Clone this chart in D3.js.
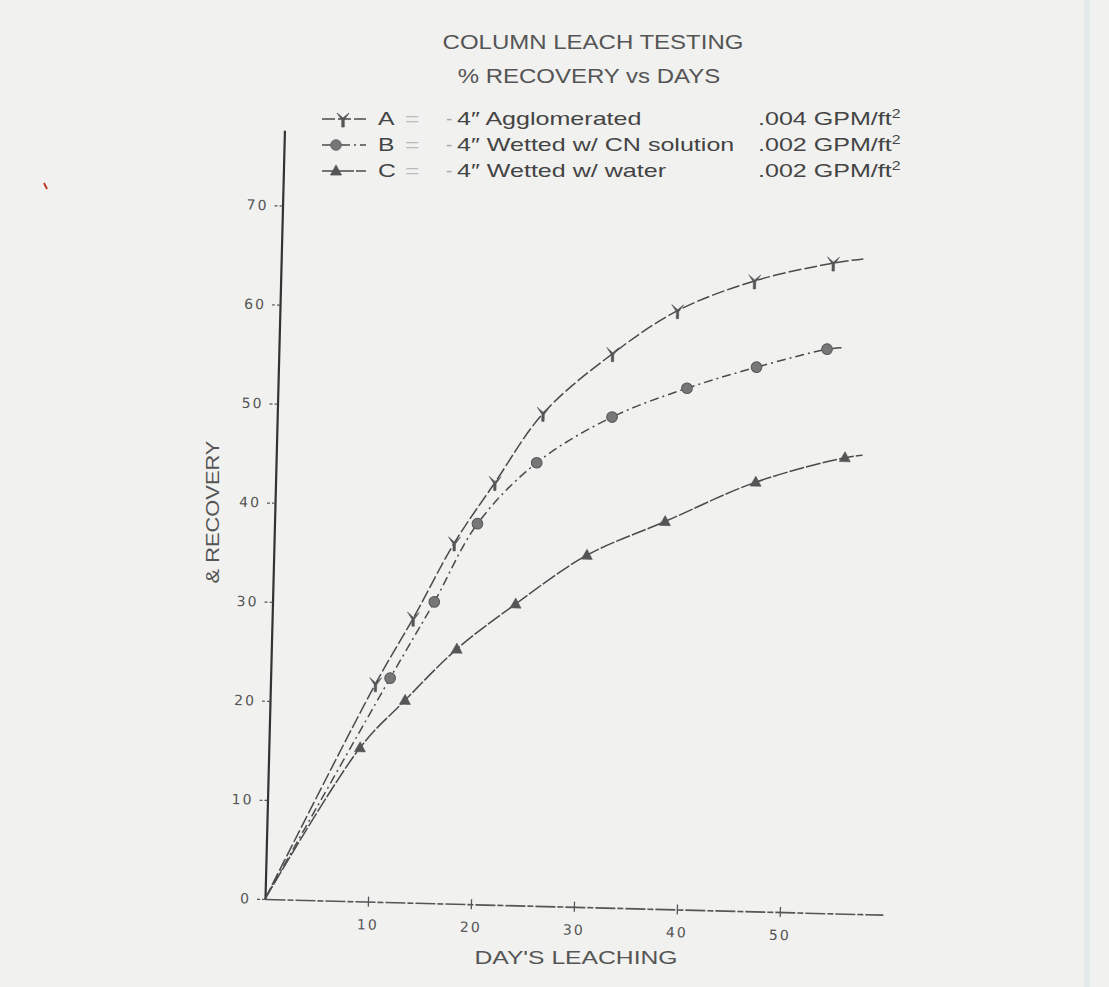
<!DOCTYPE html>
<html>
<head>
<meta charset="utf-8">
<script src="https://cdn.jsdelivr.net/npm/d3@7"></script>
<style>
  body { margin: 0; background: #f1f1f0; }
  svg { display: block; }
</style>
</head>
<body>
<svg width="1109" height="987"></svg>
<script>
// data (day, % recovery); first point is the origin, last is the curve tail
const aDays = [0, 10.2, 13.7, 17.5, 21.3, 25.8, 32.4, 38.6, 46.0, 53.6, 56.5];
const aRecovery = [0, 22.0, 28.7, 36.4, 42.6, 49.7, 55.9, 60.4, 63.6, 65.6, 66.1];
const bDays = [0, 11.6, 15.7, 19.7, 25.3, 32.5, 39.7, 46.4, 53.2, 54.7];
const bRecovery = [0, 22.6, 30.4, 38.4, 44.7, 49.5, 52.6, 54.9, 56.9, 57.1];
const cDays = [0, 8.85, 13.1, 18.0, 23.6, 30.4, 37.9, 46.6, 55.2, 56.9];
const cRecovery = [0, 15.5, 20.4, 25.7, 30.4, 35.5, 39.1, 43.3, 46.0, 46.3];

const seriesKeys = ["A", "B", "C"];
const seriesDesc = ["4\u2033 Agglomerated", "4\u2033 Wetted w/ CN solution", "4\u2033 Wetted w/ water"];
const seriesRate = [".004", ".002", ".002"];

const xTicks = [10, 20, 30, 40, 50];
const yTicks = [0, 10, 20, 30, 40, 50, 60, 70];

const svg = d3.select("svg");
const ink = "#444";

// the scan is slightly tilted, so the plot frame is rotated a little
const origin = { x: 265, y: 899 };
const tilt = 1.45;
const plotW = 618, plotH = 769;

const x = d3.scaleLinear().domain([0, 60]).range([0, plotW]);
const y = d3.scaleLinear().domain([0, 77.6]).range([plotH, 0]);

// wide typewriter-ish lettering: normal font stretched sideways
function wideText(g, tx, ty, str, size, sx, anchor, fill) {
  return g.append("text")
    .attr("transform", `translate(${tx},${ty}) scale(${sx},1)`)
    .attr("text-anchor", anchor || "start")
    .attr("font-family", "Liberation Sans, Arial, sans-serif")
    .attr("font-size", size)
    .attr("fill", fill || ink)
    .text(str);
}

// marker shapes
const markerPath = {
  A: "M-6,-6 L0,-1 L6,-6 L1.2,1 L1.2,8 L-1.2,8 L-1.2,1 Z",
  B: d3.symbol(d3.symbolCircle, 90)(),
  C: "M0,-6 L5.5,4 L-5.5,4 Z"
};
const dashes = { A: "13,3", B: "9,4,2,4", C: "15,2" };

function drawFrame() {
  const plot = svg.append("g")
    .attr("transform", `translate(${origin.x},${origin.y}) rotate(${tilt}) translate(0,${-plotH})`);

  // y axis
  const yAxis = plot.append("g").call(d3.axisLeft(y).tickValues(yTicks).tickSize(9).tickSizeOuter(0).tickPadding(5));
  yAxis.select(".domain").attr("stroke", "#333").attr("stroke-width", 2.2);
  yAxis.selectAll(".tick line").attr("stroke", "#555").attr("stroke-width", 1.2).attr("stroke-dasharray", "3,2");
  yAxis.selectAll(".tick text")
    .attr("font-family", "DejaVu Sans, sans-serif").attr("font-size", 14)
    .attr("letter-spacing", 2).attr("fill", "#555");

  // x axis
  const xAxis = plot.append("g").attr("transform", `translate(0,${plotH})`)
    .call(d3.axisBottom(x).tickValues(xTicks).tickSize(5).tickSizeOuter(0));
  xAxis.select(".domain").attr("stroke", "#555").attr("stroke-width", 1.6).attr("stroke-dasharray", "20,2,6,2");
  xAxis.selectAll(".tick line").attr("y1", -5).attr("y2", 5).attr("stroke", "#555").attr("stroke-width", 1.3);
  xAxis.selectAll(".tick text")
    .attr("y", 23).attr("dy", "0.35em")
    .attr("font-family", "DejaVu Sans, sans-serif").attr("font-size", 14)
    .attr("letter-spacing", 2).attr("fill", "#555");

  return plot;
}

function drawSeries(plot, key, days, rec) {
  const pts = days.map((d, i) => ({ day: d, rec: rec[i] }));
  const line = d3.line().curve(d3.curveCatmullRom.alpha(0.5)).x(d => x(d.day)).y(d => y(d.rec));

  plot.append("path")
    .datum(pts)
    .attr("fill", "none")
    .attr("stroke", "#4a4a4a")
    .attr("stroke-width", 1.5)
    .attr("stroke-dasharray", dashes[key])
    .attr("d", line);

  // symbols only on measured points (not origin / tail)
  plot.selectAll(".m" + key)
    .data(pts.slice(1, -1))
    .enter().append("path")
    .attr("class", "m" + key)
    .attr("transform", d => `translate(${x(d.day)},${y(d.rec)})`)
    .attr("d", markerPath[key])
    .attr("fill", key === "B" ? "#777" : "#555")
    .attr("stroke", "#555")
    .attr("stroke-width", key === "B" ? 1 : 0.6);
}

function drawLegend() {
  const g = svg.append("g");
  const rows = [125, 151, 177];
  seriesKeys.forEach((k, i) => {
    const yy = rows[i] - 6;
    g.append("line").attr("x1", 322).attr("x2", 366).attr("y1", yy).attr("y2", yy)
      .attr("stroke", "#4a4a4a").attr("stroke-width", 1.5).attr("stroke-dasharray", dashes[k]);
    g.append("path").attr("transform", `translate(${k === "A" ? 343 : 336},${yy})`)
      .attr("d", markerPath[k]).attr("fill", k === "B" ? "#777" : "#555").attr("stroke", "#555").attr("stroke-width", 0.8);
    wideText(g, 378, rows[i], k, 19, 1.3);
    wideText(g, 405, rows[i], "=", 19, 1.3, "start", "#bbb");
    wideText(g, 446, rows[i], "-", 19, 1.0, "start", "#aaa");
    wideText(g, 457, rows[i], seriesDesc[i], 19, 1.32);
    const t = wideText(g, 758, rows[i], seriesRate[i] + " GPM/ft", 19, 1.32);
    t.append("tspan").attr("font-size", 12).attr("dy", -7).text("2");
  });
}

function drawLabels() {
  wideText(svg, 593, 49, "COLUMN LEACH TESTING", 20, 1.2, "middle", "#555");
  wideText(svg, 589, 83, "% RECOVERY vs DAYS", 20, 1.2, "middle", "#555");
  wideText(svg, 576, 964, "DAY'S LEACHING", 19, 1.3, "middle", "#555");
  svg.append("text")
    .attr("transform", "translate(219,512) rotate(-90) scale(1.15,1)")
    .attr("text-anchor", "middle")
    .attr("font-family", "Liberation Sans, Arial, sans-serif")
    .attr("font-size", 19)
    .attr("fill", "#555")
    .text("& RECOVERY");
}

// scan specks
svg.append("line").attr("x1", 44).attr("y1", 183).attr("x2", 47).attr("y2", 189)
  .attr("stroke", "#c0392b").attr("stroke-width", 2);
svg.append("line").attr("x1", 1087).attr("y1", 0).attr("x2", 1087).attr("y2", 987)
  .attr("stroke", "#e2eaea").attr("stroke-width", 6);

const plot = drawFrame();
drawSeries(plot, "C", cDays, cRecovery);
drawSeries(plot, "B", bDays, bRecovery);
drawSeries(plot, "A", aDays, aRecovery);
drawLegend();
drawLabels();
</script>
</body>
</html>
